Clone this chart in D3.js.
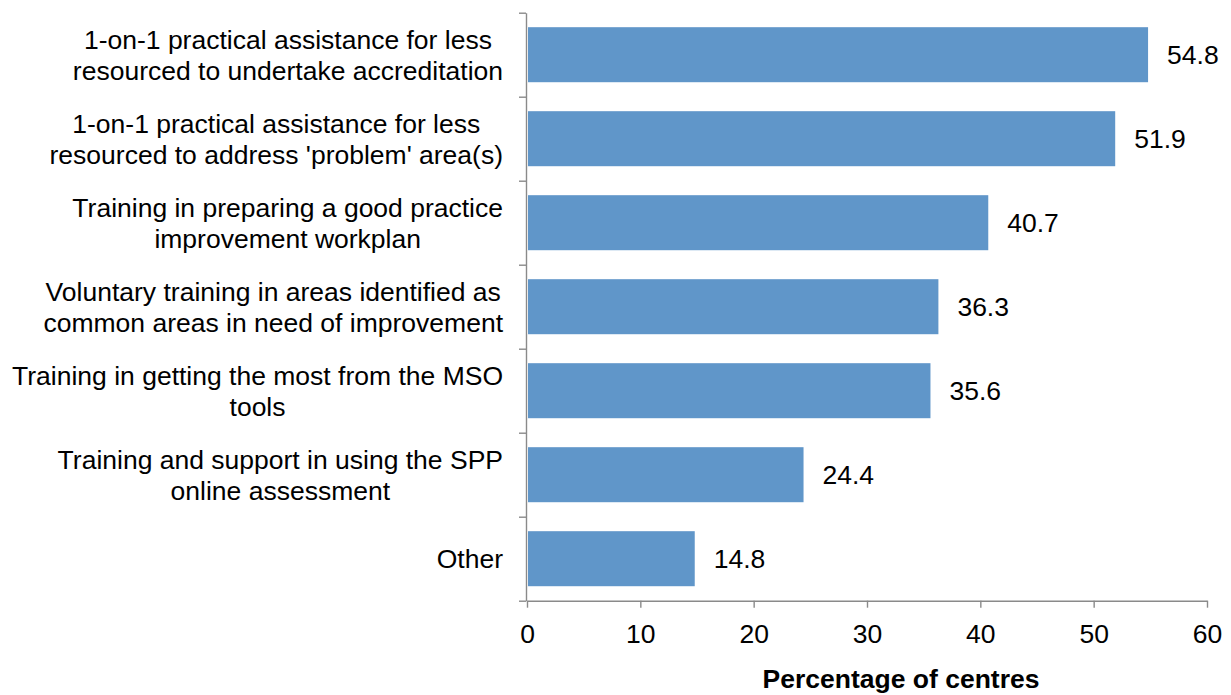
<!DOCTYPE html>
<html>
<head>
<meta charset="utf-8">
<script src="https://cdn.jsdelivr.net/npm/d3@7"></script>
<style>
  body { margin: 0; background: #fff; }
  svg { display: block; font-family: "Liberation Sans", Arial, sans-serif; }
  .axis path, .axis line { stroke: #8a8a8a; stroke-width: 1.4; }
  .axis text { font-size: 26.5px; fill: #000; font-family: "Liberation Sans", Arial, sans-serif; }
</style>
</head>
<body>
<div id="chart"></div>
<script>
// Support wanted by centres, % of centres (horizontal bar chart)
var categories = [
  ["1-on-1 practical assistance for less", "resourced to undertake accreditation"],
  ["1-on-1 practical assistance for less", "resourced to address 'problem' area(s)"],
  ["Training in preparing a good practice", "improvement workplan"],
  ["Voluntary training in areas identified as", "common areas in need of improvement"],
  ["Training in getting the most from the MSO", "tools"],
  ["Training and support in using the SPP", "online assessment"],
  ["Other"]
];
var values = [54.8, 51.9, 40.7, 36.3, 35.6, 24.4, 14.8];
var xTicks = [0, 10, 20, 30, 40, 50, 60];
var xTitle = "Percentage of centres";

var width = 1231, height = 695;
var fontSize = 26.5;
// plot box (note: "top" is a reserved window property, so prefixed names)
var plotLeft = 527, plotRight = 1207, plotTop = 12.7, plotBottom = 600.7;

var svg = d3.select("#chart").append("svg")
  .attr("width", width)
  .attr("height", height);

var x = d3.scaleLinear().domain([0, 60]).range([plotLeft, plotRight]);
var ids = d3.range(categories.length);
var y = d3.scaleBand().domain(ids).range([plotTop, plotBottom])
  .paddingInner(0.345).paddingOuter(0.1725);
// band boundaries for the category tick marks
var yEdge = d3.scaleLinear().domain([0, categories.length]).range([plotTop, plotBottom]);

svg.selectAll("rect.bar")
  .data(values)
  .join("rect")
  .attr("class", "bar")
  .attr("x", x(0) + 1)
  .attr("y", function (d, i) { return y(i); })
  .attr("width", function (d) { return x(d) - x(0) - 1; })
  .attr("height", y.bandwidth())
  .attr("fill", "#6096c9");

svg.selectAll("text.val")
  .data(values)
  .join("text")
  .attr("class", "val")
  .attr("x", function (d) { return x(d) + 19; })
  .attr("y", function (d, i) { return y(i) + y.bandwidth() / 2; })
  .attr("dy", "0.36em")
  .attr("font-size", fontSize)
  .text(function (d) { return d.toFixed(1); });

svg.append("g")
  .attr("class", "axis")
  .attr("transform", "translate(" + (plotLeft - 1) + ",0)")
  .call(d3.axisLeft(yEdge).tickValues(d3.range(categories.length + 1))
    .tickFormat("").tickSize(7).tickSizeOuter(0));

svg.append("g")
  .attr("class", "axis")
  .attr("transform", "translate(0," + plotBottom + ")")
  .call(d3.axisBottom(x).tickValues(xTicks).tickSize(7).tickSizeOuter(0).tickPadding(16));

// category labels: lines centred on each other, block right-aligned
var labelRight = 503;
var lineH = 31;
categories.forEach(function (lines, i) {
  var g = svg.append("g");
  var texts = lines.map(function (line, j) {
    return g.append("text")
      .attr("font-size", fontSize)
      .attr("text-anchor", "middle")
      .attr("y", y(i) + y.bandwidth() / 2 + (j - (lines.length - 1) / 2) * lineH)
      .attr("dy", "0.36em")
      .text(line);
  });
  var maxW = d3.max(texts, function (t) { return t.node().getComputedTextLength(); });
  texts.forEach(function (t) { t.attr("x", labelRight - maxW / 2); });
});

svg.append("text")
  .attr("x", 901)
  .attr("y", 688)
  .attr("text-anchor", "middle")
  .attr("font-size", fontSize)
  .attr("font-weight", "bold")
  .text(xTitle);
</script>
</body>
</html>
